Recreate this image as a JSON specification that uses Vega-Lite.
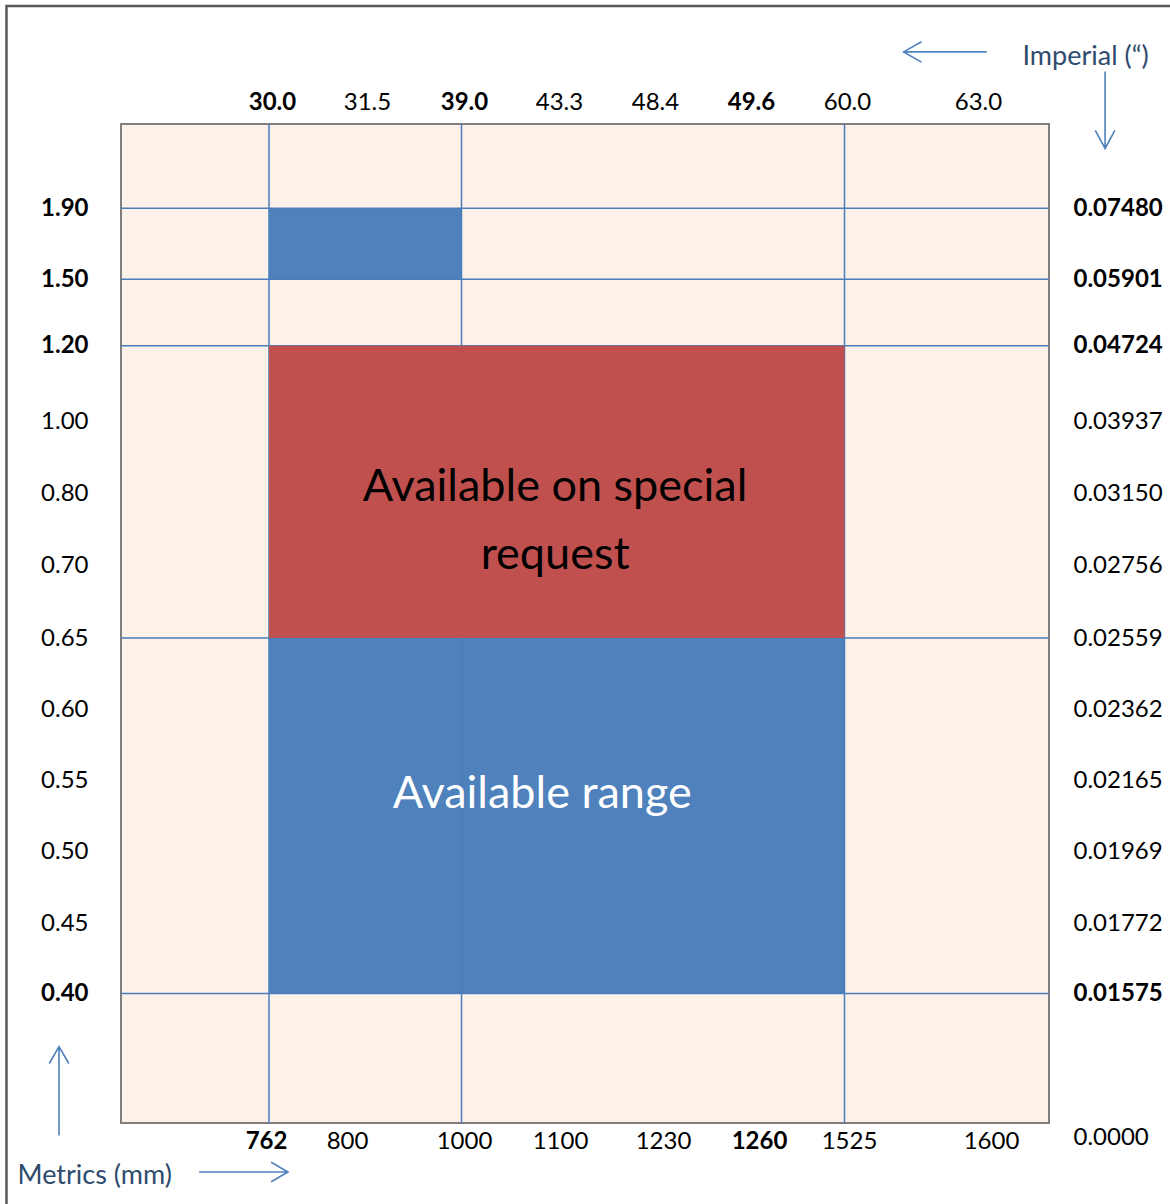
{
  "$schema": "https://vega.github.io/schema/vega-lite/v6.json",
  "width": 928,
  "height": 999,
  "autosize": "none",
  "padding": {"left": 121, "top": 124, "right": 121, "bottom": 81},
  "background": "#ffffff",
  "config": {
    "font": "Lato",
    "view": {"fill": "#FDF2EA", "stroke": "#7F7F7F", "strokeWidth": 2},
    "axis": {
      "labelFont": "Lato",
      "labelFontSize": 24,
      "labelColor": "#000000",
      "ticks": false,
      "tickSize": 0,
      "domain": false,
      "grid": false,
      "labelOverlap": false,
      "labelFlush": false,
      "titleFont": "Lato",
      "titleFontSize": 27,
      "titleFontWeight": "normal",
      "titleColor": "#2F4B6E"
    }
  },
  "datasets": {
    "zones": [
      {"offer": "standard", "mm_from": 762, "mm_to": 1000, "t_from": 1.5, "t_to": 1.9},
      {"offer": "standard", "mm_from": 762, "mm_to": 1525, "t_from": 0.4, "t_to": 0.65},
      {"offer": "special", "mm_from": 762, "mm_to": 1525, "t_from": 0.65, "t_to": 1.2}
    ],
    "grid_mm": [{"mm": 762}, {"mm": 1000}, {"mm": 1525}],
    "grid_t": [{"t": 0.4}, {"t": 0.65}, {"t": 1.2}, {"t": 1.5}, {"t": 1.9}],
    "sizes": [
      {"mm": 762, "inch": 30.0},
      {"mm": 800, "inch": 31.5},
      {"mm": 1000, "inch": 39.0},
      {"mm": 1100, "inch": 43.3},
      {"mm": 1230, "inch": 48.4},
      {"mm": 1260, "inch": 49.6},
      {"mm": 1525, "inch": 60.0},
      {"mm": 1600, "inch": 63.0}
    ],
    "notes": [
      {"offer": "special", "note": "Available on special\nrequest", "mm": 1095, "t": 0.817},
      {"offer": "standard", "note": "Available range", "mm": 1082, "t": 0.54}
    ],
    "arrows": [
      {"dir": "left", "mm": 1576.5, "t": 2.781},
      {"dir": "down", "mm": 1658.4, "t": 2.454},
      {"dir": "up", "mm": 659.7, "t": 0.128},
      {"dir": "right", "mm": 749.6, "t": -0.0976}
    ],
    "frame": [{"mm_from": 634.1, "mm_to": 2000, "t_from": -1, "t_to": 3.04}]
  },
  "layer": [
    {
      "data": {"name": "zones"},
      "transform": [{"filter": "datum.offer == 'standard'"}],
      "mark": {"type": "rect", "color": "#4F81BD"},
      "encoding": {
        "x": {
          "field": "mm_from",
          "type": "quantitative",
          "scale": {"domain": [762, 800, 1000, 1100, 1230, 1260, 1525, 1600], "range": [148, 226, 340.5, 439, 542, 638, 723.5, 870], "zero": false, "nice": false},
          "axis": null
        },
        "x2": {"field": "mm_to"},
        "y": {
          "field": "t_from",
          "type": "quantitative",
          "scale": {
            "domain": [0, 0.4, 0.45, 0.5, 0.55, 0.6, 0.65, 0.7, 0.8, 1.0, 1.2, 1.5, 1.9],
            "range": [1013, 869.5, 799, 727, 656, 585, 514, 441, 369, 297, 221.7, 155.3, 84.3],
            "zero": false,
            "nice": false
          },
          "axis": {
            "orient": "left",
            "values": [0.4, 0.45, 0.5, 0.55, 0.6, 0.65, 0.7, 0.8, 1.0, 1.2, 1.5, 1.9],
            "format": ".2f",
            "labelPadding": 33,
            "labelAlign": "right",
            "labelBaseline": "middle",
            "labelFontWeight": {"condition": {"test": "datum.value == 0.4 || datum.value >= 1.2", "value": "bold"}, "value": "normal"},
            "title": null
          }
        },
        "y2": {"field": "t_to"}
      }
    },
    {
      "data": {"name": "grid_mm"},
      "mark": {"type": "rule", "color": "#4A7EBB", "strokeWidth": 1.5},
      "encoding": {
        "x": {
          "field": "mm",
          "type": "quantitative",
          "scale": {"domain": [762, 800, 1000, 1100, 1230, 1260, 1525, 1600], "range": [148, 226, 340.5, 439, 542, 638, 723.5, 870], "zero": false, "nice": false},
          "axis": null
        }
      }
    },
    {
      "data": {"name": "grid_t"},
      "mark": {"type": "rule", "color": "#4A7EBB", "strokeWidth": 1.5},
      "encoding": {
        "y": {
          "field": "t",
          "type": "quantitative",
          "axis": {
            "orient": "right",
            "values": [0, 0.4, 0.45, 0.5, 0.55, 0.6, 0.65, 0.7, 0.8, 1.0, 1.2, 1.5, 1.9],
            "labelExpr": "datum.value == 0 ? '0.0000' : datum.value == 1.5 ? '0.05901' : format(datum.value / 25.4, '.5f')",
            "labelPadding": 24,
            "labelAlign": "left",
            "labelBaseline": "middle",
            "labelFontWeight": {"condition": {"test": "datum.value == 0.4 || datum.value >= 1.2", "value": "bold"}, "value": "normal"},
            "title": null
          }
        }
      }
    },
    {
      "data": {"name": "zones"},
      "transform": [{"filter": "datum.offer == 'special'"}],
      "mark": {"type": "rect", "color": "#C0504D"},
      "encoding": {
        "x": {
          "field": "mm_from",
          "type": "quantitative",
          "scale": {"domain": [762, 800, 1000, 1100, 1230, 1260, 1525, 1600], "range": [148, 226, 340.5, 439, 542, 638, 723.5, 870], "zero": false, "nice": false},
          "axis": null
        },
        "x2": {"field": "mm_to"},
        "y": {"field": "t_from", "type": "quantitative", "axis": null},
        "y2": {"field": "t_to"}
      }
    },
    {
      "data": {"name": "notes"},
      "mark": {"type": "text", "font": "Lato", "fontSize": 45, "align": "center", "baseline": "middle", "lineBreak": "\n", "lineHeight": 68},
      "encoding": {
        "x": {
          "field": "mm",
          "type": "quantitative",
          "scale": {"domain": [762, 800, 1000, 1100, 1230, 1260, 1525, 1600], "range": [148, 226, 340.5, 439, 542, 638, 723.5, 870], "zero": false, "nice": false},
          "axis": null
        },
        "y": {"field": "t", "type": "quantitative", "axis": null},
        "text": {"field": "note"},
        "color": {"field": "offer", "type": "nominal", "scale": {"domain": ["special", "standard"], "range": ["#000000", "#FFFFFF"]}, "legend": null}
      }
    },
    {
      "data": {"name": "arrows"},
      "mark": {"type": "point", "filled": false, "size": 7921, "strokeWidth": 1.6, "color": "#4F81BD", "opacity": 1},
      "encoding": {
        "x": {
          "field": "mm",
          "type": "quantitative",
          "scale": {"domain": [762, 800, 1000, 1100, 1230, 1260, 1525, 1600], "range": [148, 226, 340.5, 439, 542, 638, 723.5, 870], "zero": false, "nice": false},
          "axis": null
        },
        "y": {"field": "t", "type": "quantitative", "axis": null},
        "shape": {
          "field": "dir",
          "type": "nominal",
          "scale": {
            "domain": ["left", "down", "up", "right"],
            "range": [
              "M0.933,0L-0.933,0M-0.53,-0.23L-0.933,0L-0.53,0.23",
              "M0,-0.865L0,0.865M-0.22,0.46L0,0.865L0.22,0.46",
              "M0,1L0,-1M-0.22,-0.62L0,-1L0.22,-0.62",
              "M-1,0L1,0M0.62,-0.22L1,0L0.62,0.22"
            ]
          },
          "legend": null
        }
      }
    },
    {
      "data": {"name": "frame"},
      "mark": {"type": "rect", "filled": false, "color": "#595959", "strokeWidth": 2.5},
      "encoding": {
        "x": {
          "field": "mm_from",
          "type": "quantitative",
          "scale": {"domain": [762, 800, 1000, 1100, 1230, 1260, 1525, 1600], "range": [148, 226, 340.5, 439, 542, 638, 723.5, 870], "zero": false, "nice": false},
          "axis": null
        },
        "x2": {"field": "mm_to"},
        "y": {"field": "t_from", "type": "quantitative", "axis": null},
        "y2": {"field": "t_to"}
      }
    },
    {
      "data": {"name": "sizes"},
      "mark": {"type": "rule", "opacity": 0},
      "encoding": {
        "x": {
          "field": "mm",
          "type": "quantitative",
          "scale": {"domain": [762, 800, 1000, 1100, 1230, 1260, 1525, 1600], "range": [145, 226, 343, 439, 542, 638, 728, 870], "zero": false, "nice": false},
          "axis": {
            "orient": "bottom",
            "values": [762, 800, 1000, 1100, 1230, 1260, 1525, 1600],
            "format": "d",
            "labelBaseline": "alphabetic",
            "labelPadding": 25.6,
            "labelFontWeight": {"condition": {"test": "datum.value == 762 || datum.value == 1260", "value": "bold"}, "value": "normal"},
            "title": "Metrics (mm)",
            "titleX": -104,
            "titleY": 52,
            "titleAlign": "left",
            "titleAnchor": "start",
            "titleBaseline": "middle"
          }
        }
      }
    },
    {
      "data": {"name": "sizes"},
      "mark": {"type": "rule", "opacity": 0},
      "encoding": {
        "x": {
          "field": "inch",
          "type": "quantitative",
          "scale": {"domain": [30, 31.5, 39, 43.3, 48.4, 49.6, 60, 63], "range": [151, 246, 343, 438, 534, 630, 726, 857], "zero": false, "nice": false},
          "axis": {
            "orient": "top",
            "values": [30, 31.5, 39, 43.3, 48.4, 49.6, 60, 63],
            "format": ".1f",
            "labelBaseline": "alphabetic",
            "labelPadding": 14.4,
            "labelFontWeight": {"condition": {"test": "datum.value == 30 || datum.value == 39 || datum.value == 49.6", "value": "bold"}, "value": "normal"},
            "title": "Imperial (“)",
            "titleX": 901,
            "titleY": -68,
            "titleAlign": "left",
            "titleAnchor": "start",
            "titleBaseline": "middle"
          }
        }
      }
    }
  ],
  "resolve": {"scale": {"x": "independent"}, "axis": {"x": "independent", "y": "independent"}}
}
